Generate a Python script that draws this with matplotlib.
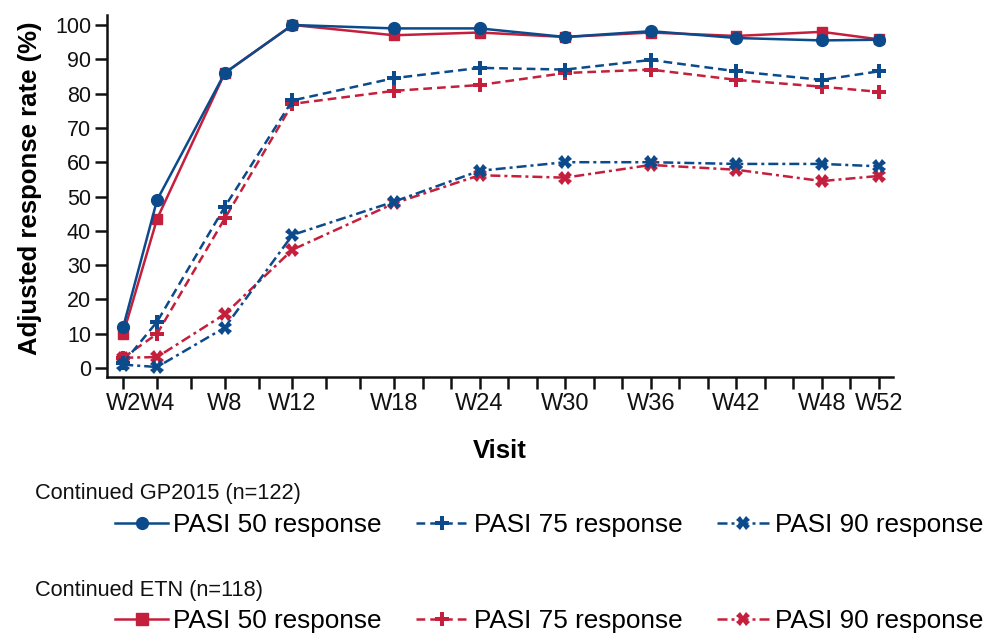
import numpy as np
import matplotlib
matplotlib.use("Agg")
import matplotlib.pyplot as plt
from matplotlib.lines import Line2D

plt.rcParams['font.family'] = ['Liberation Sans', 'DejaVu Sans']

# visits (weeks) and adjusted response rates (%)
weeks = [2, 4, 8, 12, 18, 24, 30, 36, 42, 48, 52]

gp_pasi50 = [12, 49, 86, 100, 99, 99, 96.5, 98.2, 96.2, 95.5, 95.7]
gp_pasi75 = [1.5, 13.5, 47, 78, 84.5, 87.5, 87, 89.8, 86.5, 84, 86.5]
gp_pasi90 = [1, 0.3, 11.8, 38.8, 48.5, 57.5, 60, 60, 59.5, 59.5, 58.8]

etn_pasi50 = [10, 43.5, 86, 100, 97, 97.8, 96.5, 97.8, 96.8, 98, 95.8]
etn_pasi75 = [3, 10, 43.6, 77, 80.8, 82.5, 86, 87, 84, 82, 80.5]
etn_pasi90 = [3, 3.2, 15.7, 34.5, 48, 56.2, 55.5, 59.2, 57.8, 54.5, 56]

tick_weeks = list(range(2, 53, 2))
tick_labels = ['W%d' % w if w in weeks else '' for w in tick_weeks]

blue = '#0b4a8b'
red = '#c41f3c'

# the axis runs a little tighter after week 18
def fwd(w):
    return np.interp(w, [-100, 18, 200], [-100, 18, 18 + 182 * 0.843])

def inv(t):
    return np.interp(t, [-100, 18, 18 + 182 * 0.843], [-100, 18, 200])

fig = plt.figure(figsize=(10, 6.34), dpi=100)
ax = fig.add_axes([0.107, 0.4054, 0.786, 0.5709])
ax.set_xscale('function', functions=(fwd, inv))

lw = 1.8
dash = (0, (3.5, 2))
dashdot = (0, (4, 1.6, 1.2, 1.6))

ax.plot(weeks, etn_pasi50, color=red, lw=lw, marker='s', ms=7.5)
ax.plot(weeks, etn_pasi75, color=red, lw=lw, ls=dash, marker='P', ms=9.5, mew=0)
ax.plot(weeks, etn_pasi90, color=red, lw=lw, ls=dashdot, marker='X', ms=9.5, mew=0)
ax.plot(weeks, gp_pasi50, color=blue, lw=lw, marker='o', ms=8.5)
ax.plot(weeks, gp_pasi75, color=blue, lw=lw, ls=dash, marker='P', ms=9.5, mew=0)
ax.plot(weeks, gp_pasi90, color=blue, lw=lw, ls=dashdot, marker='X', ms=9.5, mew=0)

ax.set_xlim(1.04, 52.98)
ax.set_ylim(-2.6, 102.9)
ax.set_yticks(range(0, 101, 10))
ax.set_xticks(tick_weeks)
ax.set_xticklabels(tick_labels)
ax.minorticks_off()

for side in ['top', 'right']:
    ax.spines[side].set_visible(False)
for side in ['left', 'bottom']:
    ax.spines[side].set_linewidth(1.8)
    ax.spines[side].set_color('#111111')

ax.tick_params(axis='y', length=8.5, width=1.8, pad=3, labelsize=15.5, colors='#111111')
ax.tick_params(axis='x', length=8.5, width=1.8, pad=3, labelsize=17, colors='#111111')

ax.set_ylabel('Adjusted response rate (%)', fontsize=18.5, fontweight='bold')
ax.yaxis.set_label_coords(-0.083, 0.522)
ax.set_xlabel('Visit', fontsize=18.5, fontweight='bold', labelpad=17.5)

# legend: one row per treatment group
def handles(color, first_marker):
    return [
        Line2D([], [], color=color, lw=lw, marker=first_marker, ms=8.5),
        Line2D([], [], color=color, lw=lw, ls=dash, marker='P', ms=9.5, mew=0),
        Line2D([], [], color=color, lw=lw, ls=dashdot, marker='X', ms=9.5, mew=0),
    ]

names = ['PASI 50 response', 'PASI 75 response', 'PASI 90 response']
groups = [('Continued GP2015 (n=122)', blue, 'o', 0.221, 0.172),
          ('Continued ETN (n=118)', red, 's', 0.069, 0.0205)]

for title, color, mk, ty, ly in groups:
    fig.text(0.035, ty, title, fontsize=15.7, va='center', ha='left', color='#111111')
    fig.legend(handles(color, mk), names, loc='center left', bbox_to_anchor=(0.115, ly),
               ncol=3, frameon=False, fontsize=18.8, handlelength=2.03, handletextpad=0.18,
               columnspacing=1.33, borderpad=0, borderaxespad=0)

fig.savefig('out.png', dpi=100)
